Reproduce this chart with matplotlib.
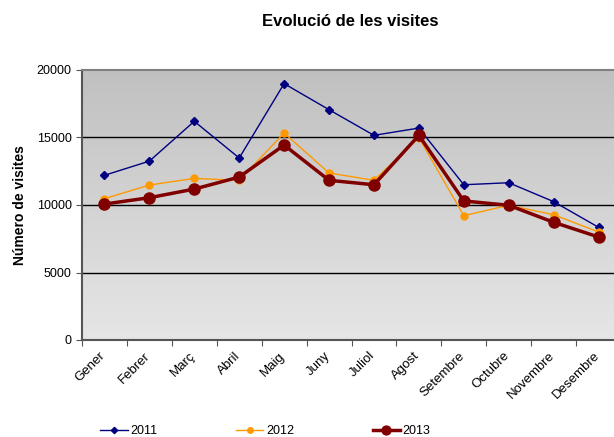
import numpy as np
import matplotlib.pyplot as plt
from matplotlib.transforms import ScaledTranslation

plt.rcParams['font.family'] = ['Liberation Sans', 'DejaVu Sans']

mesos = ['Gener', 'Febrer', 'Març', 'Abril', 'Maig', 'Juny', 'Juliol',
         'Agost', 'Setembre', 'Octubre', 'Novembre', 'Desembre']
v2011 = [12200, 13250, 16200, 13480, 18990, 17060, 15160, 15700, 11500, 11650, 10250, 8350]
v2012 = [10470, 11480, 11970, 11830, 15330, 12370, 11830, 14990, 9210, 9980, 9280, 8000]
v2013 = [10070, 10540, 11180, 12070, 14440, 11830, 11500, 15160, 10300, 9980, 8720, 7630]

fig = plt.figure(figsize=(6.14, 4.37), dpi=100)
ax = fig.add_axes([82 / 614, 97 / 437, 539 / 614, 270 / 437])

# fons amb degradat
grad = np.linspace(0, 1, 256).reshape(-1, 1)
ax.imshow(grad, cmap=plt.matplotlib.colors.LinearSegmentedColormap.from_list(
    'bg', ['#c0c0c0', '#e6e6e6']), aspect='auto', extent=[0, 1, 0, 1],
    transform=ax.transAxes, zorder=0)

x = np.arange(len(mesos))
ax.plot(x, v2011, color='#000080', lw=1, marker='D', ms=4, label='2011', zorder=3)
ax.plot(x, v2012, color='#ff9900', lw=1, marker='o', ms=5, label='2012', zorder=3)
ax.plot(x, v2013, color='#800000', lw=2.5, marker='o', ms=8, label='2013', zorder=4)

ax.set_xlim(-0.5, 11.5)
ax.set_ylim(0, 20000)
ax.set_yticks([0, 5000, 10000, 15000, 20000])
ax.set_xticks(np.arange(-0.5, 12, 1), minor=False)
ax.set_xticklabels([])
ax.set_xticks(x, minor=True)
ax.set_xticklabels(mesos, minor=True, rotation=45, ha='right', rotation_mode='anchor', fontsize=9.5)
ax.tick_params(axis='x', which='minor', length=0, pad=7)
ax.tick_params(axis='x', which='major', length=4, direction='out', color='#555555')
ax.tick_params(axis='y', labelsize=9, length=4, color='#555555')
offset = ScaledTranslation(-5 / 100, 0, fig.dpi_scale_trans)
for lbl in ax.get_xticklabels(minor=True):
    lbl.set_transform(lbl.get_transform() + offset)

for yv in [5000, 10000, 15000]:
    ax.axhline(yv, color='black', lw=1, zorder=1)
for s in ['right', 'bottom']:
    ax.spines[s].set_visible(False)
ax.spines['top'].set_color('#808080')
ax.spines['top'].set_linewidth(1.5)
ax.spines['left'].set_color('#555555')
ax.spines['left'].set_linewidth(1.5)
ax.axhline(0, color='#555555', lw=1.5, zorder=1, clip_on=False)

fig.text(350 / 614, 1 - 22 / 437, 'Evolució de les visites', ha='center', va='center',
         fontsize=12, fontweight='bold')
fig.text(20 / 614, 1 - 205 / 437, 'Número de visites', ha='center', va='center',
         rotation=90, fontsize=10, fontweight='bold')

fig.legend(loc='center left', bbox_to_anchor=(100 / 614, 1 - 431 / 437), ncol=3,
           frameon=False, fontsize=9, handlelength=2.2, handletextpad=0.2,
           columnspacing=6.3, borderaxespad=0, borderpad=0, markerscale=0.8)

fig.savefig('out.png', dpi=100)
